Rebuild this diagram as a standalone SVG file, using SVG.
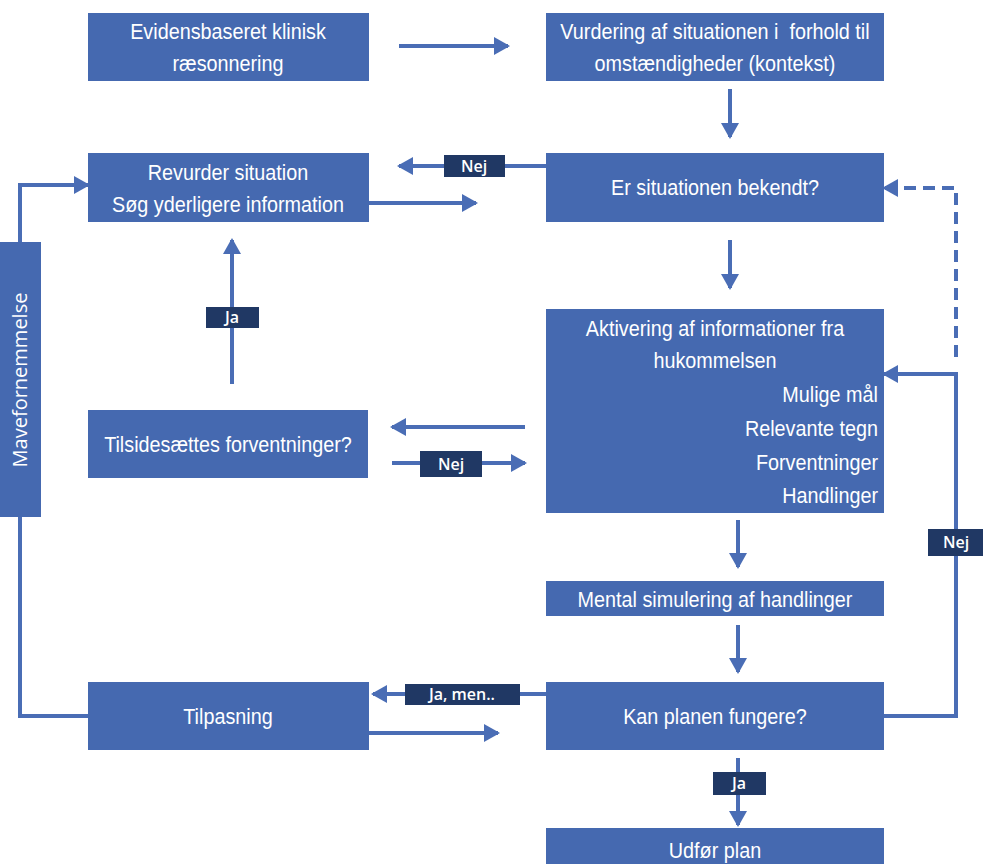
<svg xmlns="http://www.w3.org/2000/svg" width="983" height="864" viewBox="0 0 983 864">
<style>
.box{fill:#4569B0;}
.lbl{fill:#203864;}
.t{font-family:"Liberation Sans",Arial,sans-serif;font-size:22px;fill:#ffffff;text-anchor:middle;transform-box:fill-box;transform-origin:center;transform:scaleX(0.9);}
.r{text-anchor:end;transform-origin:right;}
.lt{font-family:"Open Sans","Noto Sans",sans-serif;font-size:16px;font-weight:600;fill:#ffffff;text-anchor:middle;}
.c{stroke:#4A6DB5;stroke-width:4;fill:none;}
.d{stroke-dasharray:12,7;}
</style>
<defs>
<marker id="ah" markerUnits="userSpaceOnUse" markerWidth="16" markerHeight="18" refX="14" refY="9" orient="auto">
<path d="M0,0 L16,9 L0,18 Z" fill="#4A6DB5"/>
</marker>
</defs>
<rect width="983" height="864" fill="#ffffff"/>
<g id="connectors">
<path class="c" d="M399,46 L508,46" marker-end="url(#ah)"/>
<path class="c" d="M730,89 L730,137" marker-end="url(#ah)"/>
<path class="c" d="M546,166 L399,166" marker-end="url(#ah)"/>
<path class="c" d="M369,203 L476,203" marker-end="url(#ah)"/>
<path class="c" d="M730,240 L730,288" marker-end="url(#ah)"/>
<path class="c" d="M20,242 L20,185 L88,185" marker-end="url(#ah)"/>
<path class="c d" d="M956,357 L956,188 L884,188" marker-end="url(#ah)"/>
<path class="c" d="M884,716 L956,716 L956,374 L884,374" marker-end="url(#ah)"/>
<path class="c" d="M232,384 L232,240" marker-end="url(#ah)"/>
<path class="c" d="M525,427 L392,427" marker-end="url(#ah)"/>
<path class="c" d="M392,463 L525,463" marker-end="url(#ah)"/>
<path class="c" d="M738,520 L738,567" marker-end="url(#ah)"/>
<path class="c" d="M738,625 L738,672" marker-end="url(#ah)"/>
<path class="c" d="M20,517 L20,716 L88,716"/>
<path class="c" d="M546,694 L373,694" marker-end="url(#ah)"/>
<path class="c" d="M369,733 L498,733" marker-end="url(#ah)"/>
<path class="c" d="M738,758 L738,825" marker-end="url(#ah)"/>
<rect class="lbl" x="444" y="155" width="61" height="22"/>
<text class="lt" x="474" y="172">Nej</text>
<rect class="lbl" x="206" y="307" width="53" height="21"/>
<text class="lt" x="232" y="323">Ja</text>
<rect class="lbl" x="420" y="451" width="62" height="26"/>
<text class="lt" x="451" y="470">Nej</text>
<rect class="lbl" x="928" y="529" width="55" height="27"/>
<text class="lt" x="956" y="548">Nej</text>
<rect class="lbl" x="405" y="684" width="115" height="21"/>
<text class="lt" x="462" y="700">Ja, men..</text>
<rect class="lbl" x="713" y="772" width="53" height="23"/>
<text class="lt" x="739" y="789">Ja</text>
</g>
<g id="n-evidens">
<rect class="box" x="88" y="13" width="281" height="68"/>
<text class="t" x="228" y="39">Evidensbaseret klinisk</text>
<text class="t" x="228" y="71">ræsonnering</text>
</g>
<g id="n-vurdering">
<rect class="box" x="546" y="13" width="338" height="68"/>
<text class="t" x="715" y="39" xml:space="preserve">Vurdering af situationen i  forhold til</text>
<text class="t" x="715" y="71">omstændigheder (kontekst)</text>
</g>
<g id="n-revurder">
<rect class="box" x="88" y="153" width="281" height="69"/>
<text class="t" x="228" y="180">Revurder situation</text>
<text class="t" x="228" y="212">Søg yderligere information</text>
</g>
<g id="n-bekendt">
<rect class="box" x="546" y="153" width="338" height="69"/>
<text class="t" x="715" y="195">Er situationen bekendt?</text>
</g>
<g id="n-mave">
<rect class="box" x="0" y="242" width="41" height="275"/>
<text x="27" y="380" transform="rotate(-90 27 380)" font-family="'Open Sans','Noto Sans',sans-serif" font-size="20" fill="#ffffff" text-anchor="middle">Mavefornemmelse</text>
</g>
<g id="n-aktivering">
<rect class="box" x="546" y="309" width="338" height="204"/>
<text class="t" x="715" y="336">Aktivering af informationer fra</text>
<text class="t" x="715" y="368">hukommelsen</text>
<text class="t r" x="878" y="402">Mulige mål</text>
<text class="t r" x="878" y="436">Relevante tegn</text>
<text class="t r" x="878" y="470">Forventninger</text>
<text class="t r" x="878" y="503">Handlinger</text>
</g>
<g id="n-tilside">
<rect class="box" x="88" y="410" width="280" height="68"/>
<text class="t" x="228" y="452">Tilsidesættes forventninger?</text>
</g>
<g id="n-mental">
<rect class="box" x="546" y="581" width="338" height="35"/>
<text class="t" x="715" y="607">Mental simulering af handlinger</text>
</g>
<g id="n-tilpasning">
<rect class="box" x="88" y="682" width="281" height="68"/>
<text class="t" x="228" y="724">Tilpasning</text>
</g>
<g id="n-kan">
<rect class="box" x="546" y="682" width="338" height="68"/>
<text class="t" x="715" y="724">Kan planen fungere?</text>
</g>
<g id="n-udfoer">
<rect class="box" x="546" y="828" width="338" height="40"/>
<text class="t" x="715" y="858">Udfør plan</text>
</g>
</svg>
